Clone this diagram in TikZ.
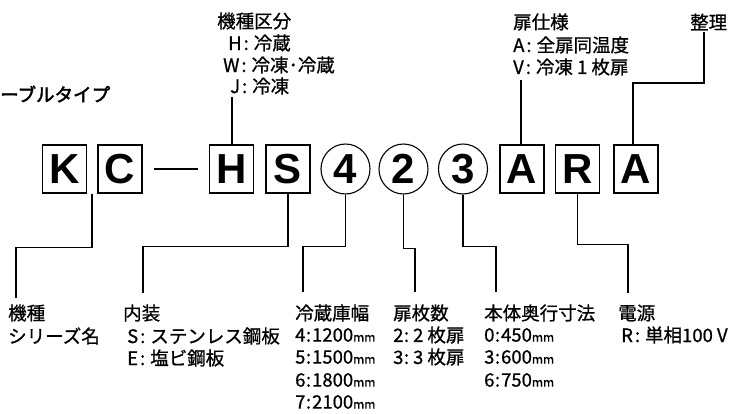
\documentclass[tikz,border=0pt]{standalone}
\usepackage{fontspec}
\setmainfont{Liberation Sans}
\newfontfamily\jp{Noto Sans CJK JP}[FakeBold=0.8]
\newfontfamily\jpb{Noto Sans CJK JP}[FakeBold=2.5]
\usetikzlibrary{shapes.geometric}
\newcommand\bigf{\fontsize{42}{42}\selectfont\bfseries}
\newcommand\cl{\hspace{2pt}:\hspace{5pt}}
\newcommand\dc{\hspace{0.5pt}:\hspace{1pt}}
\newcommand\mm{{\fontsize{12}{12}\selectfont mm}}
\begin{document}
\begin{tikzpicture}[x=1pt,y=-1pt,
  conn/.style={line width=1.3pt},
  letterbox/.style={draw,line width=1.1pt,minimum width=44pt,minimum height=48pt,inner sep=0pt,font=\bigf},
  digcirc/.style={ellipse,draw,line width=1.1pt,minimum width=49pt,minimum height=50pt,inner sep=0pt,font=\bigf},
  lbl/.style={anchor=west,inner sep=0pt,font=\jp\fontsize{18.5}{18.5}\selectfont},
]
\fill[white] (0,0) rectangle (729,413);
\useasboundingbox (0,0) rectangle (729,413);

% title
\node[anchor=west,inner sep=0pt,font=\jpb\fontsize{18.5}{18.5}\selectfont] (title) at (0,94) {ーブルタイプ};

% model code row
\node[letterbox] (K) at (64.5,169) {K};
\node[letterbox] (C) at (120,169) {C};
\node[letterbox] (H) at (231.5,169) {H};
\node[letterbox] (S) at (288,169) {S};
\node[digcirc] (c4) at (345.5,169) {4};
\node[digcirc] (c2) at (403.5,169) {2};
\node[digcirc] (c3) at (463,169) {3};
\node[letterbox] (A1) at (522,169) {A};
\node[letterbox] (R) at (577.5,169) {R};
\node[letterbox] (A2) at (636,169) {A};
\draw[line width=2pt] ([xshift=11pt]C.east) -- ([xshift=-11pt]H.west);

% top labels
\node[lbl] (kt) at (217,21) {機種区分};
\node[lbl] (kh) at (228,43) {H\cl 冷蔵};
\node[lbl] (kw) at (223,65) {W\cl 冷凍･冷蔵};
\node[lbl] (kj) at (230,86) {J\cl 冷凍};

\node[lbl] (dt) at (513,22) {扉仕様};
\node[lbl] (da) at (513,45) {A\cl 全扉同温度};
\node[lbl] (dv) at (513,67) {V\cl 冷凍 1 枚扉};

\node[lbl] (st) at (690,22) {整理};

% bottom labels
\node[lbl] (b1) at (8,313) {機種};
\node[lbl] (b1a) at (8,336) {シリーズ名};

\node[lbl] (b2) at (123,313) {内装};
\node[lbl] (b2a) at (127,336) {S\cl ステンレス鋼板};
\node[lbl] (b2b) at (127,358) {E\cl 塩ビ鋼板};

\node[lbl] (b3) at (295,313) {冷蔵庫幅};
\node[lbl] (b3a) at (295,335) {4\dc 1200\mm};
\node[lbl] (b3b) at (295,357) {5\dc 1500\mm};
\node[lbl] (b3c) at (295,380) {6\dc 1800\mm};
\node[lbl] (b3d) at (295,402) {7\dc 2100\mm};

\node[lbl] (b4) at (393,313) {扉枚数};
\node[lbl] (b4a) at (393,335) {2\dc\hspace{3pt}2 枚扉};
\node[lbl] (b4b) at (393,357) {3\dc\hspace{3pt}3 枚扉};

\node[lbl] (b5) at (484,313) {本体奥行寸法};
\node[lbl] (b5a) at (484,335) {0\dc 450\mm};
\node[lbl] (b5b) at (484,357) {3\dc 600\mm};
\node[lbl] (b5c) at (484,380) {6\dc 750\mm};

\node[lbl] (b6) at (618,313) {電源};
\node[lbl] (b6a) at (621,335) {R\cl 単相100 V};

% connector free ends
\coordinate (hStart) at (232,97);
\coordinate (aStart) at (521,80);
\coordinate (sStart) at (704,32);
\coordinate (kEnd) at (16,298);
\coordinate (nEnd) at (143,293);
\coordinate (wEnd) at (303,292);
\coordinate (dEnd) at (415,292);
\coordinate (oEnd) at (496,292);
\coordinate (pEnd) at (628,293);

% top connectors
\draw[conn] (hStart) -- (hStart |- H.north);
\draw[conn] (aStart) -- (aStart |- A1.north);
\draw[conn] (sStart) -- ++(0,51) -| ([xshift=-3pt]A2.north);

% bottom connectors
\draw[conn] ([xshift=5pt]K.south east) -- ++(0,54) -| (kEnd);
\draw[conn] (S.south) -- ++(0,53) -| (nEnd);
\draw[conn] (c4.south) -- ++(0,52) -| (wEnd);
\draw[conn] (c2.south) -- ++(0,54) -| (dEnd);
\draw[conn] (c3.south) -- ++(0,52) -| (oEnd);
\draw[conn] (R.south) -- ++(0,51) -| (pEnd);
\end{tikzpicture}
\end{document}
